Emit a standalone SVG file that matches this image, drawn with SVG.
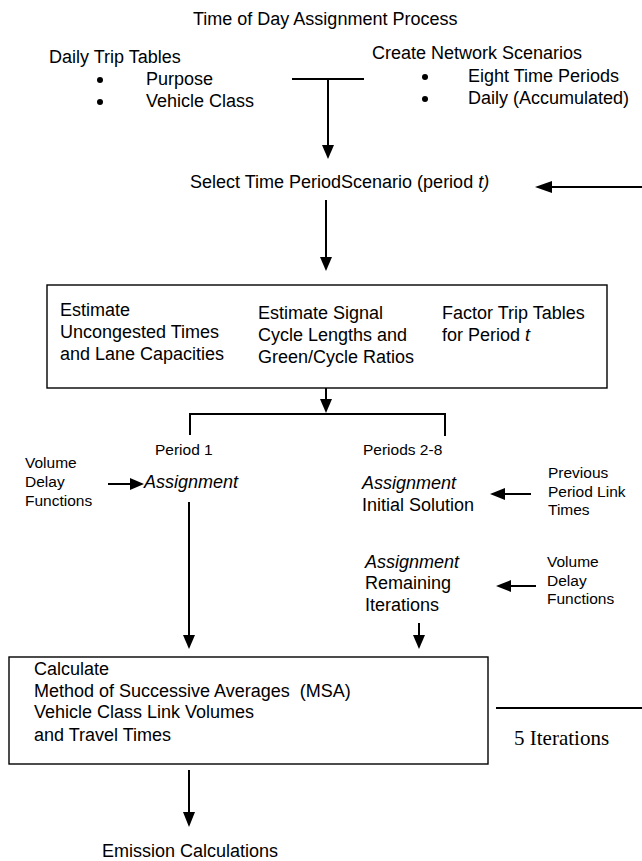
<svg xmlns="http://www.w3.org/2000/svg" width="642" height="861" viewBox="0 0 642 861">
<style>
  text { font-family: "Liberation Sans", Arial, sans-serif; font-size: 18px; fill: #000; }
  .sm { font-size: 15.5px; }
  .it { font-style: italic; }
  .serif { font-family: "Liberation Serif", "Times New Roman", serif; font-size: 21px; }
  .ln { stroke: #000; stroke-width: 2; fill: none; }
  .box { stroke: #000; stroke-width: 1.4; fill: #fff; }
  .head { fill: #000; }
</style>
<rect width="642" height="861" fill="#fff"/>
<g id="title"><text x="193" y="25">Time of Day Assignment Process</text></g>
<g id="daily-trip-tables">
  <text x="49" y="63">Daily Trip Tables</text>
  <circle cx="100" cy="80" r="3"/>
  <text x="146" y="85">Purpose</text>
  <circle cx="100" cy="102" r="3"/>
  <text x="146" y="107">Vehicle Class</text>
</g>
<g id="network-scenarios">
  <text x="372" y="59">Create Network Scenarios</text>
  <circle cx="425" cy="77" r="3"/>
  <text x="468" y="82">Eight Time Periods</text>
  <circle cx="425" cy="99" r="3"/>
  <text x="468" y="104">Daily (Accumulated)</text>
</g>
<g id="select-period"><text x="190" y="188">Select Time PeriodScenario (period <tspan class="it">t)</tspan></text></g>
<g id="estimate-box">
  <rect class="box" x="47" y="285" width="560" height="103"/>
  <text x="60" y="316">Estimate</text>
  <text x="60" y="338">Uncongested Times</text>
  <text x="60" y="360">and Lane Capacities</text>
  <text x="258" y="319">Estimate Signal</text>
  <text x="258" y="341">Cycle Lengths and</text>
  <text x="258" y="363">Green/Cycle Ratios</text>
  <text x="442" y="319">Factor Trip Tables</text>
  <text x="442" y="341">for Period <tspan class="it">t</tspan></text>
</g>
<g id="period1"><text class="sm" x="155" y="455">Period 1</text></g>
<g id="periods2-8"><text class="sm" x="363" y="455">Periods 2-8</text></g>
<g id="vdf-left">
  <text class="sm" x="25" y="468">Volume</text>
  <text class="sm" x="25" y="487">Delay</text>
  <text class="sm" x="25" y="506">Functions</text>
</g>
<g id="assignment-p1"><text class="it" x="144" y="488">Assignment</text></g>
<g id="assignment-initial">
  <text class="it" x="362" y="489">Assignment</text>
  <text x="362" y="511">Initial Solution</text>
</g>
<g id="previous-times">
  <text class="sm" x="548" y="478">Previous</text>
  <text class="sm" x="548" y="497">Period Link</text>
  <text class="sm" x="548" y="515">Times</text>
</g>
<g id="assignment-remaining">
  <text class="it" x="365" y="568">Assignment</text>
  <text x="365" y="589">Remaining</text>
  <text x="365" y="611">Iterations</text>
</g>
<g id="vdf-right">
  <text class="sm" x="547" y="567">Volume</text>
  <text class="sm" x="547" y="586">Delay</text>
  <text class="sm" x="547" y="604">Functions</text>
</g>
<g id="calculate-box">
  <rect class="box" x="9" y="657" width="479" height="107"/>
  <text x="34" y="675">Calculate</text>
  <text x="34" y="697" xml:space="preserve">Method of Successive Averages  (MSA)</text>
  <text x="34" y="718">Vehicle Class Link Volumes</text>
  <text x="34" y="741">and Travel Times</text>
</g>
<g id="iterations-label"><text class="serif" x="514" y="745">5 Iterations</text></g>
<g id="emission"><text x="102" y="857">Emission Calculations</text></g>
<g id="connectors">
  <path class="ln" d="M292,79 H364 M328,79 V146"/>
  <polygon class="head" points="322,145 334,145 328,159"/>
  <path class="ln" d="M642,187 H550"/>
  <polygon class="head" points="552,181 552,193 535,187"/>
  <path class="ln" d="M326,200 V258"/>
  <polygon class="head" points="320,257 332,257 326,271"/>
  <path class="ln" d="M326,388 V400"/>
  <polygon class="head" points="320,399 332,399 326,413"/>
  <path class="ln" d="M190,435 V414 H445 V436"/>
  <path class="ln" d="M108,484 H131"/>
  <polygon class="head" points="130,478 130,490 144,484"/>
  <path class="ln" d="M189,502 V636"/>
  <polygon class="head" points="183,635 195,635 189,649"/>
  <path class="ln" d="M531,494 H503"/>
  <polygon class="head" points="505,488 505,500 490,494"/>
  <path class="ln" d="M536,586 H509"/>
  <polygon class="head" points="511,580 511,592 496,586"/>
  <path class="ln" d="M419,623 V636"/>
  <polygon class="head" points="413,635 425,635 419,649"/>
  <path class="ln" d="M496,708 H642"/>
  <path class="ln" d="M189,770 V813"/>
  <polygon class="head" points="183,812 195,812 189,827"/>
</g>
</svg>
